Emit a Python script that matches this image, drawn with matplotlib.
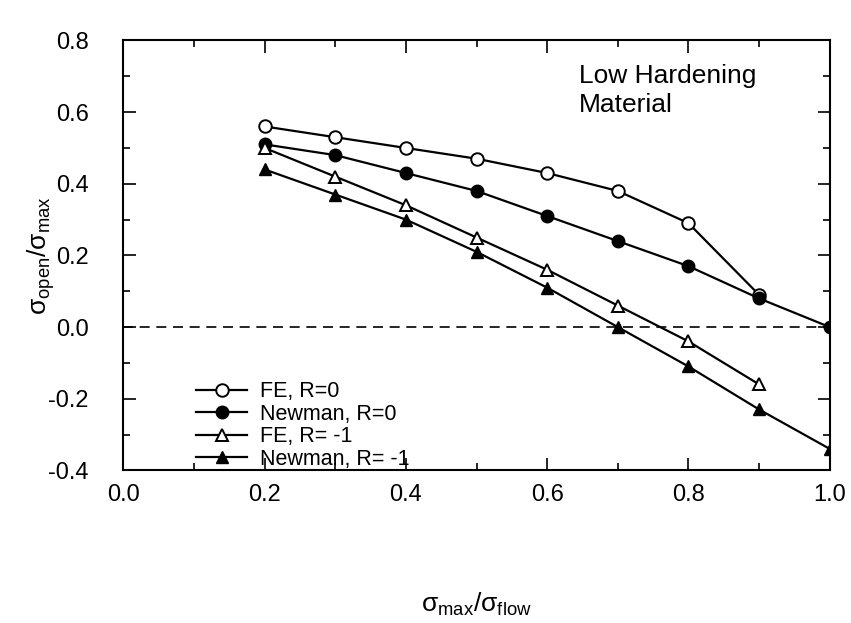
import matplotlib
matplotlib.use('Agg')
import matplotlib.pyplot as plt
from matplotlib.ticker import MultipleLocator

plt.rcParams['font.family'] = ['Liberation Sans', 'DejaVu Sans']
plt.rcParams['mathtext.fontset'] = 'custom'
plt.rcParams['mathtext.rm'] = 'Liberation Sans'
plt.rcParams['mathtext.default'] = 'regular'

# stress ratio values
x_fe0 = [0.2, 0.3, 0.4, 0.5, 0.6, 0.7, 0.8, 0.9]
y_fe0 = [0.56, 0.53, 0.50, 0.47, 0.43, 0.38, 0.29, 0.09]
x_nw0 = [0.2, 0.3, 0.4, 0.5, 0.6, 0.7, 0.8, 0.9, 1.0]
y_nw0 = [0.51, 0.48, 0.43, 0.38, 0.31, 0.24, 0.17, 0.08, 0.0]
x_fe1 = [0.2, 0.3, 0.4, 0.5, 0.6, 0.7, 0.8, 0.9]
y_fe1 = [0.50, 0.42, 0.34, 0.25, 0.16, 0.06, -0.04, -0.16]
x_nw1 = [0.2, 0.3, 0.4, 0.5, 0.6, 0.7, 0.8, 0.9, 1.0]
y_nw1 = [0.44, 0.37, 0.30, 0.21, 0.11, 0.0, -0.11, -0.23, -0.34]

fig = plt.figure(figsize=(8.51, 6.23), dpi=100)
ax = fig.add_axes([0.145, 0.245, 0.83, 0.69])

ax.axhline(0.0, color='black', lw=1.2, ls=(0, (6, 4)))

ms = 9
ax.plot(x_fe0, y_fe0, '-o', color='black', lw=1.6, ms=ms, mfc='white',
        mec='black', mew=1.4, label='FE, R=0')
ax.plot(x_nw0, y_nw0, '-o', color='black', lw=1.6, ms=ms, mfc='black',
        label='Newman, R=0')
ax.plot(x_fe1, y_fe1, '-^', color='black', lw=1.6, ms=ms, mfc='white',
        mec='black', mew=1.4, label='FE, R= -1')
ax.plot(x_nw1, y_nw1, '-^', color='black', lw=1.6, ms=ms, mfc='black',
        label='Newman, R= -1')

ax.set_xlim(0.0, 1.0)
ax.set_ylim(-0.4, 0.8)
ax.xaxis.set_major_locator(MultipleLocator(0.2))
ax.xaxis.set_minor_locator(MultipleLocator(0.1))
ax.yaxis.set_major_locator(MultipleLocator(0.2))
ax.yaxis.set_minor_locator(MultipleLocator(0.1))
ax.xaxis.set_major_formatter(plt.FormatStrFormatter('%.1f'))
ax.yaxis.set_major_formatter(plt.FormatStrFormatter('%.1f'))
ax.tick_params(which='both', direction='in', top=True, right=True,
               labelsize=17, width=1.2)
ax.tick_params(which='major', length=9)
ax.tick_params(axis='x', which='major', pad=10)
ax.tick_params(axis='y', which='major', pad=25)
ax.tick_params(which='minor', length=5)
for s in ax.spines.values():
    s.set_linewidth(1.5)

ax.set_xlabel(r'$\sigma_{max}/\sigma_{flow}$', fontsize=19, labelpad=61)
ax.set_ylabel(r'$\sigma_{open}/\sigma_{max}$', fontsize=19, labelpad=-6)

ax.text(0.645, 0.735, 'Low Hardening\nMaterial', fontsize=19,
        ha='left', va='top', linespacing=1.3)

ax.legend(loc='lower left', bbox_to_anchor=(0.075, -0.044), frameon=False,
          fontsize=15.5, handlelength=2.4, labelspacing=0.07, handletextpad=0.6)

fig.savefig('out.png', dpi=100)
